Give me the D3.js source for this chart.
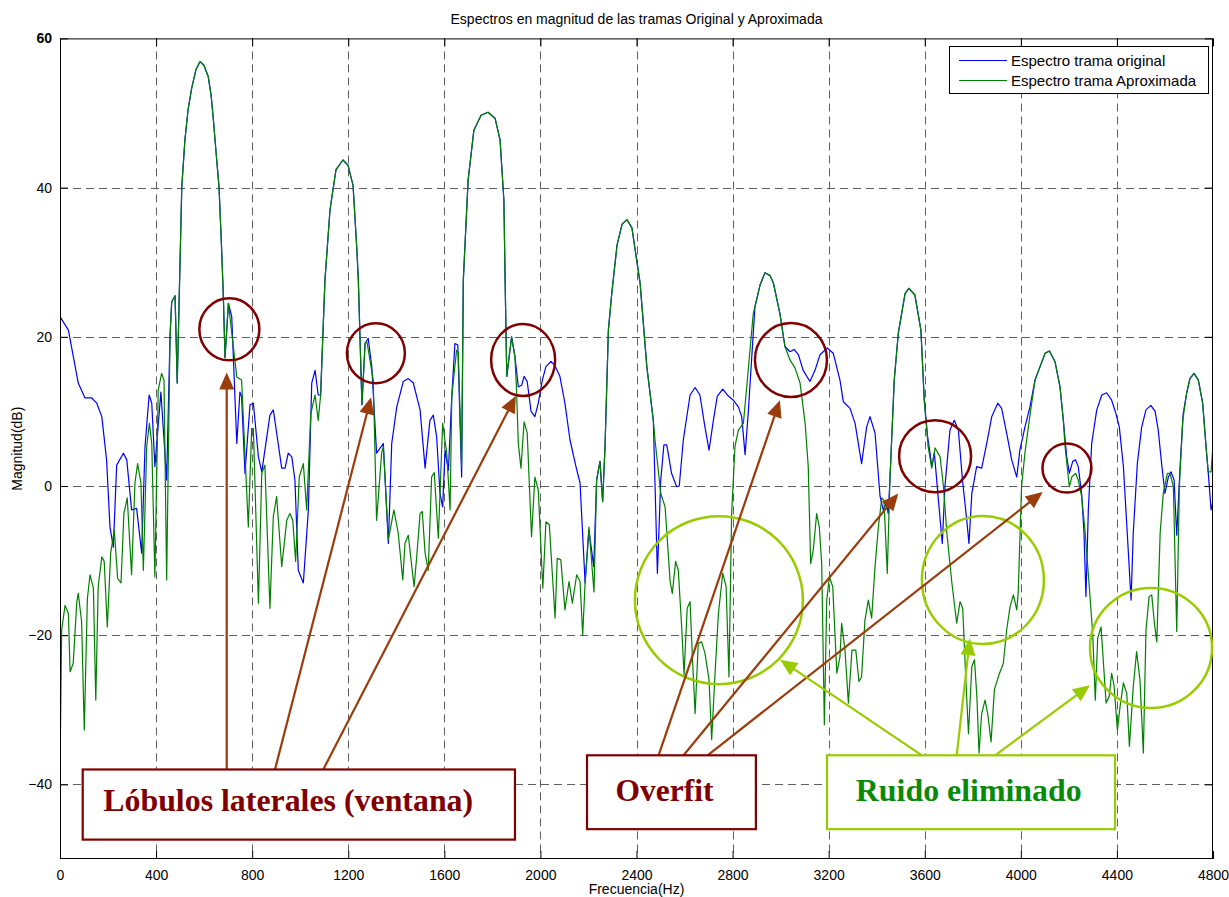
<!DOCTYPE html>
<html><head><meta charset="utf-8">
<script src="https://cdn.jsdelivr.net/npm/d3@7"></script>
<style>body{margin:0;background:#fff}svg{display:block}</style>
</head><body>
<svg id="chart" width="1229" height="897"></svg>
<script>
// ---------------- DATA ----------------
const chartTitle = "Espectros en magnitud de las tramas Original y Aproximada";
const xLabel = "Frecuencia(Hz)";
const yLabel = "Magnitud(dB)";
const xTicks = [0,400,800,1200,1600,2000,2400,2800,3200,3600,4000,4400,4800];
const yTicks = [-40,-20,0,20,40,60];
const seriesNames = ["Espectro trama original","Espectro trama Aproximada"];

// [frequency Hz, magnitude dB]
const spectrumOriginal = [
[0,22.7],[35,20.9],[76,13.8],[104,11.8],[132,11.8],[153,11.1],[174,9.3],[194,3.5],[208,-5.5],[222,-8.2],
[236,2.8],[264,4.4],[278,3.5],[298,-3.2],[319,-3.0],[340,-9.0],[354,5.3],[371,12.2],[382,11.1],[395,2.6],
[420,12.6],[444,0.8],[458,20.0],[465,24.7],[479,25.5],[488,13.8],[507,40.1],[520,46.4],[533,50.4],[548,53.3],
[566,55.8],[583,56.9],[599,56.4],[617,54.9],[629,52.4],[638,49.3],[649,45.0],[662,40.1],[673,31.6],[680,25.4],
[687,17.2],[701,24.5],[715,22.7],[736,5.7],[749,12.6],[756,12.0],[770,1.7],[791,10.9],[805,11.1],[826,3.9],
[840,1.9],[853,4.8],[874,9.5],[888,10.2],[902,7.1],[923,2.4],[937,2.4],[950,4.4],[965,3.9],[978,0.8],
[992,-11.3],[1013,-13.0],[1034,-3.2],[1048,13.8],[1062,15.5],[1075,12.2],[1085,12.2],[1103,27.6],[1124,37.0],[1149,42.4],
[1178,43.7],[1199,43.0],[1220,40.3],[1236,31.6],[1242,27.6],[1257,10.9],[1270,19.1],[1283,19.8],[1298,16.0],[1318,4.4],
[1346,5.7],[1367,-7.7],[1381,5.7],[1402,10.6],[1429,14.0],[1450,14.4],[1471,13.8],[1499,10.2],[1520,2.4],[1540,8.8],
[1554,9.5],[1568,6.6],[1582,-1.0],[1593,-2.8],[1603,4.8],[1617,2.1],[1631,12.0],[1644,19.1],[1656,18.9],[1672,1.2],
[1679,27.6],[1699,41.0],[1723,47.7],[1753,49.7],[1782,50.1],[1811,49.3],[1832,46.4],[1848,38.3],[1853,27.6],[1860,14.7],
[1880,20.0],[1894,17.3],[1908,13.3],[1922,13.5],[1932,14.7],[1945,14.0],[1961,10.0],[1977,9.3],[1991,11.1],[2008,14.2],
[2023,16.0],[2044,16.7],[2061,16.1],[2081,14.7],[2102,11.1],[2123,6.2],[2148,2.6],[2165,0.4],[2186,-13.0],[2202,-5.9],
[2222,-10.8],[2234,0.8],[2248,3.3],[2259,-2.1],[2269,5.3],[2283,20.9],[2297,25.8],[2319,32.3],[2340,35.1],[2360,35.7],
[2381,34.6],[2402,30.0],[2415,27.2],[2443,16.0],[2470,8.8],[2487,-11.7],[2501,0.8],[2514,5.5],[2526,5.5],[2546,1.7],
[2567,-0.1],[2578,0.0],[2595,6.2],[2623,12.2],[2644,13.2],[2664,12.2],[2685,7.9],[2702,4.8],[2720,8.8],[2736,12.0],
[2759,13.0],[2778,12.2],[2803,11.5],[2824,10.6],[2838,9.3],[2852,4.2],[2865,9.7],[2893,24.0],[2914,26.9],[2935,28.6],
[2956,28.2],[2970,27.2],[2997,23.1],[3018,18.7],[3039,18.0],[3056,18.3],[3074,17.6],[3094,15.5],[3122,14.0],[3143,15.5],
[3164,17.6],[3194,18.5],[3219,17.8],[3247,14.2],[3261,11.3],[3289,10.4],[3310,8.4],[3337,3.0],[3358,7.9],[3372,9.3],
[3393,7.1],[3414,-1.4],[3427,-3.2],[3441,-2.3],[3448,-3.7],[3455,0.8],[3473,14.2],[3490,20.5],[3518,25.8],[3534,26.5],
[3559,25.6],[3584,20.9],[3598,11.5],[3612,6.6],[3622,4.4],[3629,2.6],[3640,4.4],[3657,-1.9],[3673,-7.7],[3684,-0.1],
[3705,7.5],[3723,8.8],[3740,7.5],[3757,0.8],[3775,-4.6],[3784,-7.7],[3796,-1.0],[3816,2.6],[3837,2.4],[3858,5.7],
[3879,9.3],[3904,11.1],[3920,10.4],[3941,7.1],[3962,3.5],[3983,1.2],[3996,4.8],[4017,7.9],[4038,10.6],[4059,14.2],
[4080,16.0],[4101,17.8],[4119,18.1],[4142,16.7],[4163,13.3],[4177,8.8],[4191,3.9],[4202,1.7],[4216,3.3],[4228,3.5],
[4239,2.6],[4253,-1.0],[4263,-6.3],[4271,-14.8],[4281,-3.2],[4295,5.7],[4316,10.2],[4337,12.2],[4357,12.5],[4378,11.5],
[4396,9.7],[4410,7.9],[4427,2.6],[4443,-6.3],[4459,-15.3],[4468,-6.3],[4485,3.0],[4503,7.9],[4521,10.2],[4541,10.8],
[4559,10.0],[4572,7.5],[4586,3.0],[4600,-1.0],[4614,1.2],[4625,1.9],[4638,0.8],[4649,-6.6],[4663,2.6],[4676,9.7],
[4690,12.4],[4704,14.4],[4721,15.1],[4739,14.2],[4757,11.1],[4771,5.3],[4780,1.9],[4792,-3.2],[4800,-2.0]
];

const spectrumAprox = [
[0,-38.1],[7,-19.3],[21,-16.0],[35,-17.1],[42,-24.9],[55,-23.8],[70,-15.5],[76,-14.4],[90,-18.2],[101,-32.7],
[114,-15.1],[125,-11.9],[139,-13.7],[149,-28.7],[159,-13.5],[174,-9.5],[184,-10.1],[197,-18.9],[211,-9.0],[226,-5.9],
[240,-12.4],[254,-13.0],[266,-3.7],[280,-1.6],[298,-11.9],[312,0.4],[323,3.0],[337,0.4],[347,-11.3],[361,5.3],
[372,8.4],[382,5.7],[395,-12.2],[409,12.9],[423,15.1],[433,14.2],[444,-12.6],[458,20.0],[465,24.7],[479,25.5],
[488,13.8],[507,40.1],[520,46.4],[533,50.4],[548,53.3],[566,55.8],[583,56.9],[599,56.4],[617,54.9],[629,52.4],
[638,49.3],[649,45.0],[662,40.1],[673,31.6],[680,25.4],[687,17.2],[701,24.5],[736,14.6],[756,14.2],[784,-5.5],
[798,7.7],[805,7.7],[826,-15.7],[840,1.7],[853,2.8],[874,-16.4],[888,-4.1],[902,-1.4],[923,-10.8],[944,-4.6],
[957,-3.7],[969,-4.6],[981,-10.1],[996,1.2],[1013,3.0],[1027,-3.2],[1044,9.7],[1062,12.2],[1075,8.8],[1085,12.2],
[1103,27.6],[1124,37.0],[1149,42.4],[1178,43.7],[1199,43.0],[1220,40.3],[1236,31.6],[1242,27.6],[1257,10.9],[1270,19.1],
[1278,19.3],[1304,14.2],[1318,-4.6],[1339,4.4],[1346,5.3],[1367,-7.2],[1390,-3.2],[1408,-6.3],[1427,-12.6],[1436,-7.7],
[1450,-6.6],[1474,-13.5],[1485,-9.5],[1499,-3.7],[1508,-3.4],[1520,-9.0],[1533,-11.3],[1547,1.2],[1558,1.8],[1575,-7.0],
[1593,8.4],[1610,4.4],[1624,-3.2],[1631,12.0],[1651,18.2],[1658,18.0],[1672,2.6],[1679,27.6],[1699,41.0],[1723,47.7],
[1753,49.7],[1782,50.1],[1811,49.3],[1832,46.4],[1848,38.3],[1853,27.6],[1860,14.7],[1880,20.0],[1894,17.3],[1900,13.3],
[1908,5.7],[1919,2.4],[1932,8.6],[1945,7.1],[1963,-6.8],[1977,1.2],[1991,-0.5],[2010,-13.7],[2023,-4.8],[2037,-5.2],
[2061,-17.7],[2070,-9.7],[2085,-9.9],[2102,-16.6],[2119,-12.8],[2133,-15.7],[2151,-11.9],[2165,-12.8],[2176,-20.0],[2186,-13.0],
[2202,-5.5],[2223,-14.2],[2234,0.8],[2248,3.3],[2259,-2.1],[2269,5.3],[2283,20.9],[2297,25.8],[2319,32.3],[2340,35.1],
[2360,35.7],[2381,34.6],[2402,30.0],[2415,27.2],[2443,16.0],[2470,8.8],[2477,6.2],[2501,-1.0],[2519,-2.8],[2532,-9.0],
[2540,-12.8],[2549,-14.4],[2563,-10.1],[2574,-11.3],[2588,-18.9],[2598,-25.3],[2611,-16.4],[2623,-15.5],[2632,-22.4],[2644,-30.5],
[2657,-21.1],[2671,-20.9],[2685,-22.4],[2702,-26.0],[2713,-34.0],[2727,-25.1],[2741,-17.1],[2759,-11.7],[2773,-13.5],[2785,-25.6],
[2796,-3.7],[2810,5.3],[2824,7.5],[2845,8.4],[2859,13.3],[2886,23.1],[2914,26.9],[2935,28.6],[2956,28.2],[2970,27.2],
[2997,23.1],[3018,18.7],[3039,16.9],[3060,15.8],[3081,13.8],[3102,8.4],[3115,2.6],[3125,-10.4],[3136,-8.6],[3150,-3.7],
[3161,-5.5],[3171,-10.4],[3182,-32.0],[3192,-15.3],[3203,-12.2],[3217,-13.5],[3234,-25.1],[3247,-22.9],[3254,-18.4],[3268,-22.0],
[3282,-29.1],[3297,-22.0],[3313,-22.0],[3326,-26.2],[3337,-25.6],[3351,-18.0],[3365,-15.3],[3379,-17.7],[3393,-10.8],[3407,-5.5],
[3421,-1.6],[3430,-1.9],[3444,-11.7],[3455,0.8],[3473,14.2],[3490,20.5],[3518,25.8],[3534,26.5],[3559,25.6],[3584,20.9],
[3598,11.5],[3614,5.3],[3629,2.4],[3643,5.1],[3664,3.9],[3678,-0.1],[3692,-6.3],[3713,-13.0],[3733,-18.4],[3747,-15.5],
[3758,-16.4],[3771,-26.0],[3782,-33.2],[3796,-24.2],[3807,-23.3],[3817,-28.2],[3826,-35.8],[3837,-30.5],[3851,-28.7],[3862,-30.5],
[3876,-34.3],[3890,-27.3],[3909,-25.3],[3927,-23.8],[3941,-19.3],[3955,-16.2],[3969,-14.6],[3983,-16.6],[3989,-14.4],[4003,-0.1],
[4017,4.4],[4038,9.5],[4059,14.2],[4080,16.0],[4101,17.8],[4119,18.1],[4142,16.7],[4163,13.3],[4177,8.8],[4184,5.3],
[4202,-0.1],[4212,1.2],[4228,1.7],[4239,0.8],[4253,-1.4],[4267,-5.9],[4285,-13.5],[4299,-19.7],[4310,-28.7],[4320,-20.4],
[4334,-18.9],[4343,-23.3],[4355,-29.1],[4368,-28.2],[4378,-25.1],[4388,-26.7],[4402,-32.7],[4413,-29.6],[4427,-26.4],[4441,-27.8],
[4452,-34.9],[4468,-26.9],[4482,-22.2],[4496,-26.0],[4510,-35.8],[4521,-19.3],[4534,-14.8],[4545,-14.6],[4556,-18.4],[4566,-20.9],
[4580,-6.3],[4593,-1.0],[4610,1.7],[4621,1.7],[4635,-0.1],[4649,-19.5],[4660,-0.1],[4674,8.8],[4690,12.4],[4704,14.4],
[4721,15.1],[4739,14.2],[4757,11.1],[4771,5.3],[4780,1.9],[4792,1.9],[4800,5.5]
];

// annotation labels
const annotationLabels = ["Lóbulos laterales (ventana)","Overfit","Ruido eliminado"];

// ---------------- LAYOUT / STYLE ----------------
const svg = d3.select("#chart");
const plot = {left:60, right:1213, top:38.4, bottom:859};
const x = d3.scaleLinear().domain([0,4800]).range([plot.left, plot.right]);
const y = d3.scaleLinear().domain([-50,60]).range([plot.bottom, plot.top]);
const FONT = "'Liberation Sans', Arial, Helvetica, sans-serif";
const SERIF = "'Liberation Serif', 'Times New Roman', serif";
const C_BLUE = "#0000ff", C_GREEN = "#008000";
const C_RED = "#800000", C_BROWN = "#9a3c0c", C_LIME = "#99cc00";

svg.append("rect").attr("width",1229).attr("height",897).attr("fill","#fff");

// grid
const grid = svg.append("g").attr("stroke","#444").attr("stroke-width",1).attr("stroke-dasharray","8,5").attr("opacity",0.85);
grid.selectAll("line.v").data(xTicks.filter(d=>d>0&&d<4800)).join("line")
  .attr("x1",d=>Math.round(x(d))+0.5).attr("x2",d=>Math.round(x(d))+0.5)
  .attr("y1",plot.top).attr("y2",plot.bottom);
grid.selectAll("line.h").data(yTicks.filter(d=>d<60)).join("line")
  .attr("y1",d=>Math.round(y(d))+0.5).attr("y2",d=>Math.round(y(d))+0.5)
  .attr("x1",plot.left).attr("x2",plot.right);

// axes
const TL = 8;
const gx = svg.append("g").attr("transform",`translate(0,${plot.bottom})`)
  .call(d3.axisBottom(x).tickValues(xTicks).tickFormat(d3.format("d")).tickSizeInner(-TL).tickSizeOuter(0).tickPadding(11));
const gxt = svg.append("g").attr("transform",`translate(0,${plot.top})`)
  .call(d3.axisTop(x).tickValues(xTicks).tickFormat("").tickSizeInner(-TL).tickSizeOuter(0));
const gy = svg.append("g").attr("transform",`translate(${plot.left},0)`)
  .call(d3.axisLeft(y).tickValues(yTicks).tickFormat(d3.format("d")).tickSizeInner(-TL).tickSizeOuter(0).tickPadding(8));
const gyr = svg.append("g").attr("transform",`translate(${plot.right},0)`)
  .call(d3.axisRight(y).tickValues(yTicks).tickFormat("").tickSizeInner(-TL).tickSizeOuter(0));
[gx,gxt,gy,gyr].forEach(g=>{
  g.select(".domain").remove();
  g.selectAll(".tick line").attr("stroke","#000");
  g.selectAll("text").attr("font-family",FONT).attr("font-size",14).attr("fill","#000");
});
gy.selectAll(".tick text").filter(d=>d===60).attr("font-weight","bold");

// lines
const line = d3.line().x(d=>x(d[0])).y(d=>y(d[1]));
const clip = svg.append("clipPath").attr("id","clip").append("rect")
  .attr("x",plot.left).attr("y",plot.top).attr("width",plot.right-plot.left).attr("height",plot.bottom-plot.top);
const lines = svg.append("g").attr("clip-path","url(#clip)");
lines.append("path").datum(spectrumOriginal).attr("d",line).attr("fill","none").attr("stroke",C_BLUE).attr("stroke-width",1.2).attr("stroke-linejoin","round");
lines.append("path").datum(spectrumAprox).attr("d",line).attr("fill","none").attr("stroke",C_GREEN).attr("stroke-width",1.2).attr("stroke-linejoin","round");

// border
svg.append("rect").attr("x",plot.left+0.5).attr("y",plot.top+0.5)
  .attr("width",plot.right-plot.left-1).attr("height",plot.bottom-plot.top-1)
  .attr("fill","none").attr("stroke","#000").attr("stroke-width",1);

// title & labels
svg.append("text").attr("x",(plot.left+plot.right)/2).attr("y",24).attr("text-anchor","middle")
  .attr("font-family",FONT).attr("font-size",14).text(chartTitle);
svg.append("text").attr("x",(plot.left+plot.right)/2).attr("y",894).attr("text-anchor","middle")
  .attr("font-family",FONT).attr("font-size",14).text(xLabel);
svg.append("text").attr("transform",`translate(22,${(plot.top+plot.bottom)/2}) rotate(-90)`).attr("text-anchor","middle")
  .attr("font-family",FONT).attr("font-size",14).text(yLabel);

// legend
const lg = svg.append("g");
lg.append("rect").attr("x",949.5).attr("y",46.5).attr("width",259).attr("height",47).attr("fill","#fff").attr("stroke","#000");
[C_BLUE,C_GREEN].forEach((c,i)=>{
  const yy = 60.5 + i*20;
  lg.append("line").attr("x1",959).attr("x2",1007).attr("y1",yy).attr("y2",yy).attr("stroke",c).attr("stroke-width",1.2);
  lg.append("text").attr("x",1011).attr("y",yy+5).attr("font-family",FONT).attr("font-size",15).text(seriesNames[i]);
});

// ---------------- ANNOTATIONS (data coordinates) ----------------
const ann = svg.append("g");
// circles: [freq, dB, rx, ry]
const redCircles = [[705,21,30,31],[1315,17.8,29,30],[1928,16.9,32,36],[3043,16.9,36,37],[3643,4.0,36,36],[4192,2.4,24.5,24.5]];
const limeCircles = [[2743,-15.3,84,84],[3842,-12.6,61,64],[4542,-21.7,61,60]];
redCircles.forEach(c=>ann.append("ellipse").attr("cx",x(c[0])).attr("cy",y(c[1])).attr("rx",c[2]).attr("ry",c[3])
  .attr("fill","none").attr("stroke",C_RED).attr("stroke-width",2.5));
limeCircles.forEach(c=>ann.append("ellipse").attr("cx",x(c[0])).attr("cy",y(c[1])).attr("rx",c[2]).attr("ry",c[3])
  .attr("fill","none").attr("stroke",C_LIME).attr("stroke-width",2.5));

function arrow(f1,d1,f2,d2,color){
  const x1=x(f1),y1=y(d1),x2=x(f2),y2=y(d2);
  const dx=x2-x1, dy=y2-y1, L=Math.hypot(dx,dy), ux=dx/L, uy=dy/L;
  const hl=17, hw=7.5, bx=x2-ux*hl, by=y2-uy*hl;
  ann.append("line").attr("x1",x1).attr("y1",y1).attr("x2",bx+ux*2).attr("y2",by+uy*2)
    .attr("stroke",color).attr("stroke-width",2.2);
  ann.append("polygon").attr("points",[[x2,y2],[bx-uy*hw,by+ux*hw],[bx+uy*hw,by-ux*hw]].map(p=>p.join(",")).join(" "))
    .attr("fill",color);
}
// [from freq, from dB, to freq, to dB]
const brownArrows = [[694,-38,694,15.2],[895,-38,1295,11.9],[1096,-38,1898,12.1],
  [2492,-36.1,2997,11.5],[2596,-36.1,3490,-1.0],[2696,-36.1,4091,-0.8]];
const limeArrows = [[3588,-36.1,2998,-23.3],[3733,-36.1,3788,-20.4],[3893,-36.1,4288,-26.7]];
brownArrows.forEach(a=>arrow(...a,C_BROWN));
limeArrows.forEach(a=>arrow(...a,C_LIME));

// boxes: [f0, f1, dBtop, dBbottom, textFreq, textDB, textWidthPx, border, textColor]
const boxes = [
  [94.5,1894,-38,-47.4,180,-43.6,370,C_RED,C_RED],
  [2194,2897,-36.1,-46.0,2313,-42.2,98,C_RED,C_RED],
  [3193,4392,-36.1,-46.0,3313,-42.2,226,C_LIME,"#0a8a0a"]
];
boxes.forEach((b,i)=>{
  ann.append("rect").attr("x",x(b[0])).attr("y",y(b[2])).attr("width",x(b[1])-x(b[0])).attr("height",y(b[3])-y(b[2]))
    .attr("fill","#fff").attr("stroke",b[7]).attr("stroke-width",2.2);
  const t = ann.append("text").attr("x",x(b[4])).attr("y",y(b[5])).attr("font-family",SERIF)
    .attr("font-weight","bold").attr("font-size",32).attr("fill",b[8]).text(annotationLabels[i]);
  const w = t.node().getComputedTextLength();
  if (w>0) t.attr("font-size", 32*b[6]/w);
});
</script>
</body></html>
